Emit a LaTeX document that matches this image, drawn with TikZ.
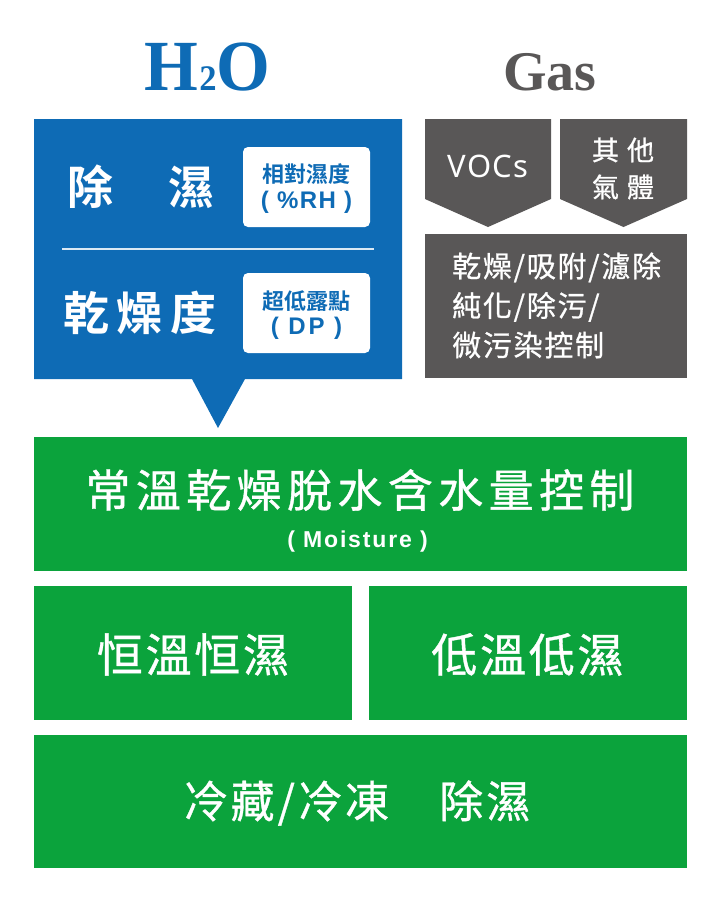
\documentclass[tikz,border=0pt]{standalone}
\usepackage{fontspec}
\setmainfont{Liberation Serif}
\newfontfamily\cjk{Noto Sans CJK TC}[BoldFont={Noto Sans CJK TC Bold}]
\newfontfamily\cjkmed{Noto Sans CJK TC}[FakeBold=0.8]
\newfontfamily\arial{Liberation Sans}
\newfontfamily\notosans{Noto Sans}
\definecolor{h2oblue}{HTML}{0E6BB5}
\definecolor{gasgray}{HTML}{595757}
\definecolor{moistgreen}{HTML}{0BA33C}
\tikzstyle{h2o}=      [fill=h2oblue]
\tikzstyle{gas}=      [fill=gasgray]
\tikzstyle{moist}=    [fill=moistgreen]
\tikzstyle{tag}=      [fill=white, rounded corners=5pt]
\tikzstyle{wtxt}=     [text=white, inner sep=0pt]
\tikzstyle{btxt}=     [text=h2oblue, inner sep=0pt]
\newcommand\fs[2]{\fontsize{#1pt}{#1pt}\selectfont\addfontfeatures{LetterSpace=#2}}

\begin{document}
\begin{tikzpicture}[x=1pt,y=-1pt]
 \useasboundingbox (0,0) rectangle (720,900);
 \def\gasTop{119}
 \def\gasSide{199}
 \def\gasTip{227}

 \node[btxt, anchor=base] (h2otitle) at (207.5,90) {\fontsize{72pt}{72pt}\selectfont\bfseries\scalebox{0.96}[1]{H\hspace{1pt}{\fontsize{36pt}{36pt}\selectfont 2}O}};
 \node[anchor=base, text=gasgray, inner sep=0pt] (gastitle) at (550,90) {\fontsize{56pt}{56pt}\selectfont\bfseries Gas};

 \fill[h2o] (34,119) -- (402,119) -- (402,379) -- (245,379) -- (218,428) -- (192,379) -- (34,379) -- cycle;
 \draw[white!85!h2oblue, line width=1.5pt] (62,249) -- (374,249);
 \fill[tag] (243,147) rectangle (370,227);
 \fill[tag] (243,273) rectangle (370,353);

 \node[wtxt] (dehum) at (141,187) {\cjk\bfseries\fontsize{46pt}{46pt}\selectfont 除\hspace{56pt}濕};
 \node[wtxt] (dryness) at (140,313) {\cjk\bfseries\fs{46}{16}乾燥度};
 \node[btxt] (rhcn) at (306.5,174) {\cjk\bfseries\fs{22}{0}相對濕度};
 \node[btxt] (rhen) at (306.5,202.5) {\arial\bfseries\fs{24}{6}( \%RH )};
 \node[btxt] (dpcn) at (306.5,301) {\cjk\bfseries\fs{22}{0}超低露點};
 \node[btxt] (dpen) at (306.5,328.5) {\arial\bfseries\fs{24}{12}( DP )};

 \foreach \xl/\xr in {425/551, 560/687}
 {
  \fill[gas] (\xl,\gasTop) -- (\xr,\gasTop) -- (\xr,\gasSide) -- ({(\xl+\xr)/2},\gasTip) -- (\xl,\gasSide) -- cycle;
 }
 \fill[gas] (425,234) rectangle (687,378);

 \node[wtxt] (vocs) at (488,166) {\notosans\fs{31}{4}VOCs};
 \node[wtxt, align=center, font={\cjkmed\fontsize{27pt}{37pt}\selectfont\addfontfeatures{LetterSpace=30}}] (othergas) at (623,168.5) {其他\\氣體};
 \node[wtxt, anchor=west, align=left, font={\cjkmed\fontsize{29pt}{39.5pt}\selectfont\addfontfeatures{LetterSpace=6}}] (gasproc) at (452,305.5) {乾燥/吸附/濾除\\純化/除污/\\微污染控制};

 \fill[moist] (34,437) rectangle (687,571);
 \foreach \xl/\xr in {34/352, 369/687}
 {
  \fill[moist] (\xl,586) rectangle (\xr,720);
 }
 \fill[moist] (34,735) rectangle (687,868);

 \node[wtxt] (moistcn) at (360,490) {\cjkmed\fs{45}{12}常溫乾燥脫水含水量控制};
 \node[wtxt] (moisten) at (357.5,542) {\arial\bfseries\fs{23}{8}( Moisture )};
 \node[wtxt] (consthum) at (193,654.5) {\cjkmed\fs{46}{6}恒溫恒濕};
 \node[wtxt] (lowhum) at (527.5,654.5) {\cjkmed\fs{46}{6}低溫低濕};
 \node[wtxt] (coldhum) at (357,803) {\cjkmed\fs{44}{7}冷藏/冷凍　除濕};
\end{tikzpicture}
\end{document}
